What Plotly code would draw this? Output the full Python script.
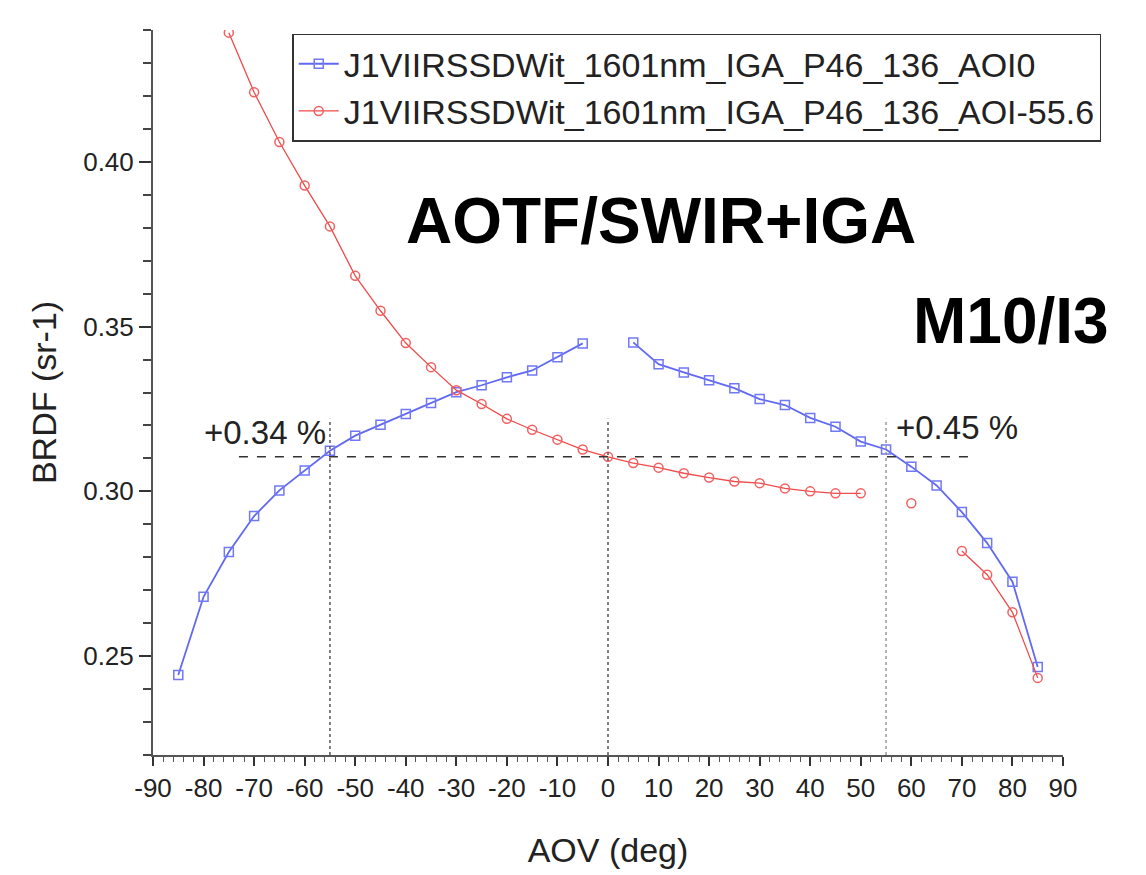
import plotly.graph_objects as go

# ---------------- data ----------------
aov_blue = [-85, -80, -75, -70, -65, -60, -55, -50, -45, -40, -35, -30, -25, -20, -15, -10, -5,
            None,
            5, 10, 15, 20, 25, 30, 35, 40, 45, 50, 55, 60, 65, 70, 75, 80, 85]
brdf_blue = [0.2443, 0.268, 0.2816, 0.2925, 0.3003, 0.3063, 0.3123, 0.3169, 0.3202, 0.3235,
             0.3268, 0.3301, 0.3322, 0.3346, 0.3367, 0.3407, 0.3449,
             None,
             0.3452, 0.3386, 0.3361, 0.3337, 0.3313, 0.328, 0.3262, 0.3223, 0.3196, 0.3151,
             0.3127, 0.3075, 0.3018, 0.2937, 0.2843, 0.2726, 0.2467]

aov_red = [-75, -70, -65, -60, -55, -50, -45, -40, -35, -30, -25, -20, -15, -10, -5, 0,
           5, 10, 15, 20, 25, 30, 35, 40, 45, 50,
           None, 60, None,
           70, 75, 80, 85]
brdf_red = [0.4392, 0.4211, 0.406, 0.3928, 0.3804, 0.3654, 0.3548, 0.345, 0.3377, 0.3307,
            0.3265, 0.322, 0.3187, 0.3157, 0.3127, 0.3105,
            0.3086, 0.3072, 0.3055, 0.3042, 0.303, 0.3025, 0.3009, 0.300, 0.2994, 0.2994,
            None, 0.2964, None,
            0.2819, 0.2747, 0.2633, 0.2434]

name_blue = "J1VIIRSSDWit_1601nm_IGA_P46_136_AOI0"
name_red = "J1VIIRSSDWit_1601nm_IGA_P46_136_AOI-55.6"

ref_level = 0.3105          # horizontal reference BRDF
ref_span = [-73, 72.5]      # extent of horizontal reference line
ref_aov = [-55, 0, 55]      # vertical reference angles
ref_top = 0.322             # top of vertical reference lines
pct_labels = ["+0.34 %", "+0.45 %"]

x_ticks = list(range(-90, 91, 10))
y_ticks = [0.25, 0.30, 0.35, 0.40]

FONT = "Liberation Sans, Arial, sans-serif"

fig = go.Figure()
fig.add_trace(go.Scatter(
    x=aov_blue, y=brdf_blue, name=name_blue, mode="lines+markers",
    connectgaps=False,
    line=dict(color="#6169f2", width=1.8),
    marker=dict(symbol="square-open", size=9, color="#7078f4", line=dict(width=1.5)),
))
fig.add_trace(go.Scatter(
    x=aov_red, y=brdf_red, name=name_red, mode="lines+markers",
    connectgaps=False,
    line=dict(color="#f04a4a", width=1.3),
    marker=dict(symbol="circle-open", size=9, color="#f26060", line=dict(width=1.5)),
))

shapes = [dict(type="line", xref="x", yref="y", x0=ref_span[0], x1=ref_span[1],
               y0=ref_level, y1=ref_level, line=dict(color="#333333", width=1.5, dash="dash"))]
for i, a in enumerate(ref_aov):
    shapes.append(dict(type="line", xref="x", yref="y", x0=a, x1=a, y0=0.22, y1=ref_top,
                       line=dict(color="#555555" if i < 2 else "#999999", width=1.5, dash="dot")))

annotations = [
    dict(x=ref_aov[0], y=ref_level, xref="x", yref="y", text=pct_labels[0], showarrow=False,
         xanchor="right", yanchor="bottom", xshift=-2, yshift=4,
         font=dict(family=FONT, size=33, color="#222")),
    dict(x=ref_aov[2], y=ref_level, xref="x", yref="y", text=pct_labels[1], showarrow=False,
         xanchor="left", yanchor="bottom", xshift=8, yshift=9,
         font=dict(family=FONT, size=33, color="#222")),
    dict(x=0.276, y=0.737, xref="paper", yref="paper", text="<b>AOTF/SWIR+IGA</b>",
         showarrow=False, xanchor="left", yanchor="middle",
         font=dict(family=FONT, size=64, color="black")),
    dict(x=0.833, y=0.599, xref="paper", yref="paper", text="<b>M10/I3</b>",
         showarrow=False, xanchor="left", yanchor="middle",
         font=dict(family=FONT, size=64, color="black")),
]

fig.update_layout(
    width=1146, height=875,
    margin=dict(l=153, r=83, t=30, b=114),
    paper_bgcolor="white", plot_bgcolor="white",
    font=dict(family=FONT, size=24, color="#222"),
    shapes=shapes, annotations=annotations,
    legend=dict(x=0.153, y=0.995, xanchor="left", yanchor="top",
                bgcolor="white", bordercolor="#333", borderwidth=1.5,
                font=dict(family=FONT, size=34, color="#222"),
                tracegroupgap=0, itemwidth=40),
    showlegend=True,
)
fig.update_xaxes(
    range=[-90, 90], tickvals=x_ticks, ticktext=[str(v) for v in x_ticks],
    showgrid=False, zeroline=False, showline=True, linecolor="#555", linewidth=2,
    ticks="outside", ticklen=9, tickwidth=2, tickcolor="#333",
    minor=dict(dtick=2, ticks="outside", ticklen=5, tickwidth=1, tickcolor="#555"),
    tickfont=dict(family=FONT, size=26, color="#222"),
    title=dict(text="AOV (deg)", font=dict(family=FONT, size=34, color="#222"), standoff=36),
)
fig.update_yaxes(
    range=[0.22, 0.44], tickvals=y_ticks, ticktext=[f"{v:.2f}" for v in y_ticks],
    showgrid=False, zeroline=False, showline=True, linecolor="#555", linewidth=2,
    ticks="outside", ticklen=12, tickwidth=2, tickcolor="#333",
    minor=dict(dtick=0.01, ticks="outside", ticklen=8, tickwidth=1.5, tickcolor="#444"),
    tickfont=dict(family=FONT, size=26, color="#222"),
    title=dict(text="BRDF (sr-1)", font=dict(family=FONT, size=34, color="#222"), standoff=16),
)

fig.write_html("out.html")
